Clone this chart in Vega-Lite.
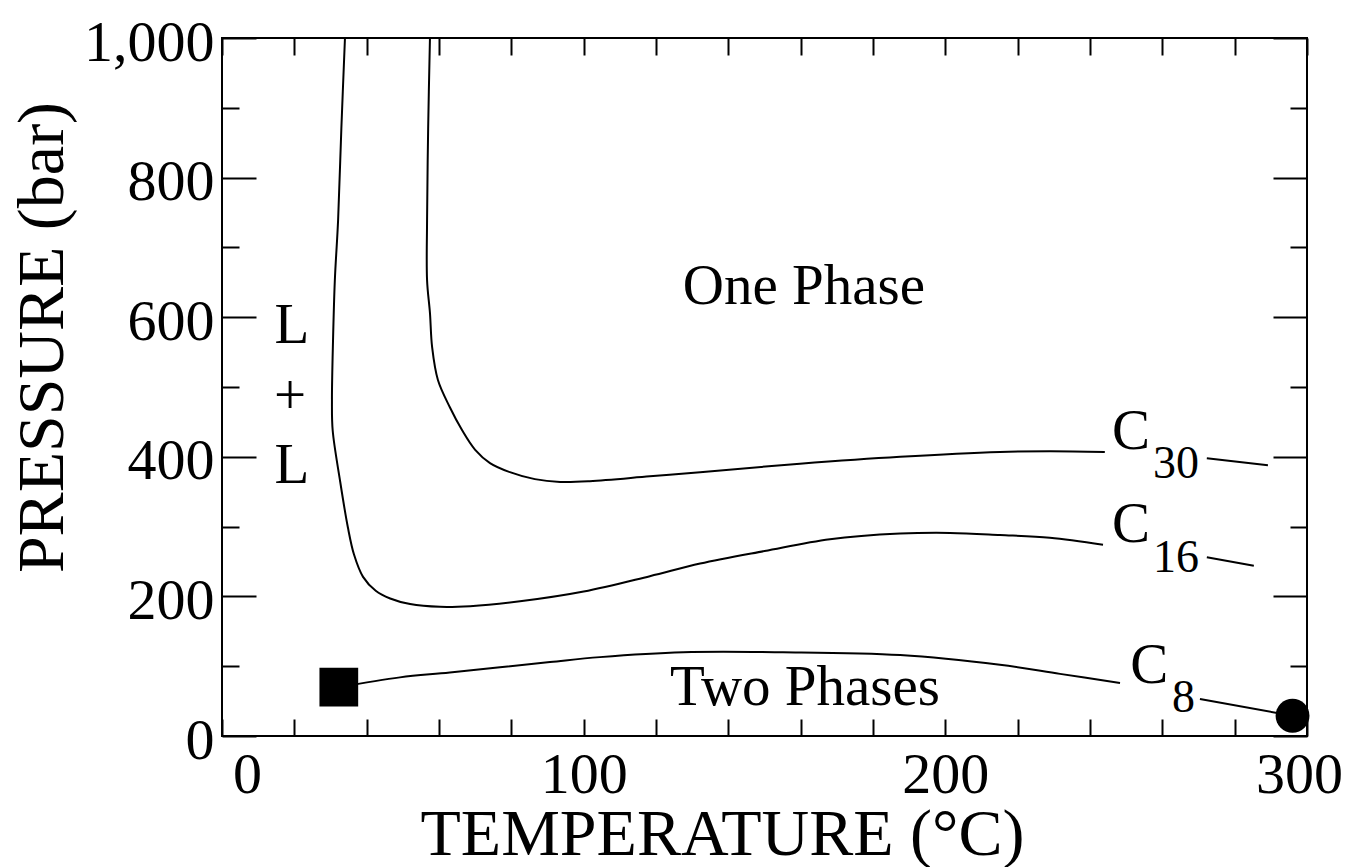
{
  "$schema": "https://vega.github.io/schema/vega-lite/v6.json",
  "width": 1085,
  "height": 698,
  "autosize": "none",
  "padding": {"left": 222, "top": 38, "right": 39, "bottom": 131},
  "background": "white",
  "config": {
    "view": {"stroke": "black", "strokeWidth": 2},
    "axis": {
      "grid": false, "domain": false, "labelFlush": false,
      "labelFont": "Liberation Serif", "titleFont": "Liberation Serif",
      "labelColor": "black", "titleColor": "black", "tickColor": "black", "tickWidth": 2,
      "labelFontSize": 58, "titleFontSize": 66, "titleFontWeight": "normal"
    }
  },
  "datasets": {
    "curves": [
      {"seg": "c30a", "T": 57.5, "P": 1000}, {"seg": "c30a", "T": 57.0, "P": 870}, {"seg": "c30a", "T": 56.7, "P": 739}, {"seg": "c30a", "T": 56.7, "P": 653}, {"seg": "c30a", "T": 57.5, "P": 606}, {"seg": "c30a", "T": 58.1, "P": 557}, {"seg": "c30a", "T": 59.7, "P": 510}, {"seg": "c30a", "T": 63.0, "P": 471}, {"seg": "c30a", "T": 66.4, "P": 438}, {"seg": "c30a", "T": 70.0, "P": 410}, {"seg": "c30a", "T": 74.1, "P": 391}, {"seg": "c30a", "T": 79.6, "P": 378}, {"seg": "c30a", "T": 86.5, "P": 368}, {"seg": "c30a", "T": 93.5, "P": 364}, {"seg": "c30a", "T": 101.7, "P": 365}, {"seg": "c30a", "T": 118.3, "P": 372}, {"seg": "c30a", "T": 132.2, "P": 378}, {"seg": "c30a", "T": 159.8, "P": 390}, {"seg": "c30a", "T": 187.5, "P": 400}, {"seg": "c30a", "T": 215.1, "P": 407}, {"seg": "c30a", "T": 228.9, "P": 408}, {"seg": "c30a", "T": 244.1, "P": 407},
      {"seg": "c30b", "T": 272.3, "P": 398}, {"seg": "c30b", "T": 289.2, "P": 388},
      {"seg": "c16a", "T": 34.0, "P": 1000}, {"seg": "c16a", "T": 33.0, "P": 870}, {"seg": "c16a", "T": 32.1, "P": 739}, {"seg": "c16a", "T": 31.2, "P": 653}, {"seg": "c16a", "T": 30.7, "P": 567}, {"seg": "c16a", "T": 30.4, "P": 481}, {"seg": "c16a", "T": 30.6, "P": 438}, {"seg": "c16a", "T": 32.6, "P": 367}, {"seg": "c16a", "T": 34.8, "P": 299}, {"seg": "c16a", "T": 36.5, "P": 260}, {"seg": "c16a", "T": 39.0, "P": 228}, {"seg": "c16a", "T": 42.5, "P": 208}, {"seg": "c16a", "T": 46.5, "P": 197}, {"seg": "c16a", "T": 52.0, "P": 189}, {"seg": "c16a", "T": 60.3, "P": 185}, {"seg": "c16a", "T": 68.6, "P": 186}, {"seg": "c16a", "T": 82.4, "P": 193}, {"seg": "c16a", "T": 100.0, "P": 207}, {"seg": "c16a", "T": 118.3, "P": 229}, {"seg": "c16a", "T": 132.2, "P": 247}, {"seg": "c16a", "T": 150.0, "P": 265}, {"seg": "c16a", "T": 168.1, "P": 282}, {"seg": "c16a", "T": 187.5, "P": 290}, {"seg": "c16a", "T": 201.3, "P": 291}, {"seg": "c16a", "T": 215.1, "P": 288}, {"seg": "c16a", "T": 228.9, "P": 284}, {"seg": "c16a", "T": 243.6, "P": 274},
      {"seg": "c16b", "T": 272.3, "P": 256}, {"seg": "c16b", "T": 285.3, "P": 244},
      {"seg": "c8a", "T": 32.3, "P": 70}, {"seg": "c8a", "T": 49.2, "P": 84}, {"seg": "c8a", "T": 63.0, "P": 91}, {"seg": "c8a", "T": 90.7, "P": 106}, {"seg": "c8a", "T": 104.5, "P": 113}, {"seg": "c8a", "T": 127.5, "P": 120}, {"seg": "c8a", "T": 155.1, "P": 120}, {"seg": "c8a", "T": 187.5, "P": 116}, {"seg": "c8a", "T": 215.1, "P": 102}, {"seg": "c8a", "T": 231.7, "P": 89}, {"seg": "c8a", "T": 248.3, "P": 76},
      {"seg": "c8b", "T": 270.4, "P": 53}, {"seg": "c8b", "T": 296.0, "P": 29}
    ],
    "square": [{"T": 32.3, "P": 70}],
    "circle": [{"T": 296.0, "P": 29}],
    "mainText": [
      {"T": 160.9, "P": 619, "label": "One Phase"},
      {"T": 161.2, "P": 44, "label": "Two Phases"},
      {"T": 19.3, "P": 563, "label": "L"},
      {"T": 18.8, "P": 461, "label": "+"},
      {"T": 19.3, "P": 362, "label": "L"}
    ],
    "cText": [
      {"T": 246.1, "P": 411, "label": "C"},
      {"T": 246.1, "P": 278, "label": "C"},
      {"T": 251.1, "P": 76, "label": "C"}
    ],
    "subText": [
      {"T": 257.4, "P": 370, "label": "30"},
      {"T": 257.4, "P": 235, "label": "16"},
      {"T": 262.7, "P": 34, "label": "8"}
    ]
  },
  "resolve": {"axis": {"x": "independent", "y": "independent"}},
  "layer": [
    {
      "data": {"name": "curves"},
      "mark": {"type": "line", "color": "black", "strokeWidth": 2, "interpolate": "catmull-rom"},
      "encoding": {
        "x": {"field": "T", "type": "quantitative", "scale": {"domain": [0, 300], "nice": false, "zero": false},
          "axis": {"orient": "bottom", "ticks": false, "values": [0, 100, 200, 300], "format": "d", "labelPadding": 10,
            "labelOffset": {"condition": [{"test": "datum.value === 0", "value": 25}, {"test": "datum.value === 300", "value": -8}], "value": 0},
            "title": "TEMPERATURE (°C)", "titleX": 500, "titleY": 118, "titleBaseline": "alphabetic", "titleAnchor": null}},
        "y": {"field": "P", "type": "quantitative", "scale": {"domain": [0, 1000], "nice": false},
          "axis": {"orient": "left", "ticks": false, "values": [0, 200, 400, 600, 800, 1000], "format": ",d", "labelPadding": 8, "labelOffset": 5,
            "title": "PRESSURE (bar)", "titleX": -160, "titleY": 299, "titleBaseline": "alphabetic", "titleAngle": -90}},
        "detail": {"field": "seg"},
        "order": {"value": null}
      }
    },
    {
      "data": {"name": "square"},
      "mark": {"type": "point", "shape": "square", "filled": true, "color": "black", "size": 1500, "opacity": 1},
      "encoding": {
        "x": {"field": "T", "type": "quantitative", "axis": {"orient": "bottom", "labels": false, "title": null, "tickSize": -17, "values": [0, 20, 40, 60, 80, 100, 120, 140, 160, 180, 200, 220, 240, 260, 280, 300]}},
        "y": {"field": "P", "type": "quantitative", "axis": {"orient": "left", "labels": false, "title": null, "tickSize": -34, "values": [0, 200, 400, 600, 800, 1000]}}
      }
    },
    {
      "data": {"name": "circle"},
      "mark": {"type": "point", "shape": "circle", "filled": true, "color": "black", "size": 1150, "opacity": 1},
      "encoding": {
        "x": {"field": "T", "type": "quantitative", "axis": {"orient": "top", "labels": false, "title": null, "tickSize": -17, "values": [0, 20, 40, 60, 80, 100, 120, 140, 160, 180, 200, 220, 240, 260, 280, 300]}},
        "y": {"field": "P", "type": "quantitative", "axis": {"orient": "left", "labels": false, "title": null, "tickSize": -17, "values": [100, 300, 500, 700, 900]}}
      }
    },
    {
      "data": {"name": "mainText"},
      "mark": {"type": "text", "font": "Liberation Serif", "fontSize": 57, "align": "center", "baseline": "alphabetic", "color": "black"},
      "encoding": {
        "x": {"field": "T", "type": "quantitative", "axis": null},
        "y": {"field": "P", "type": "quantitative", "axis": {"orient": "right", "labels": false, "title": null, "tickSize": -34, "values": [0, 200, 400, 600, 800, 1000]}},
        "text": {"field": "label"}
      }
    },
    {
      "data": {"name": "cText"},
      "mark": {"type": "text", "font": "Liberation Serif", "fontSize": 57, "align": "left", "baseline": "alphabetic", "color": "black"},
      "encoding": {
        "x": {"field": "T", "type": "quantitative", "axis": null},
        "y": {"field": "P", "type": "quantitative", "axis": {"orient": "right", "labels": false, "title": null, "tickSize": -17, "values": [100, 300, 500, 700, 900]}},
        "text": {"field": "label"}
      }
    },
    {
      "data": {"name": "subText"},
      "mark": {"type": "text", "font": "Liberation Serif", "fontSize": 46, "align": "left", "baseline": "alphabetic", "color": "black"},
      "encoding": {
        "x": {"field": "T", "type": "quantitative", "axis": null},
        "y": {"field": "P", "type": "quantitative", "axis": null},
        "text": {"field": "label"}
      }
    }
  ]
}
